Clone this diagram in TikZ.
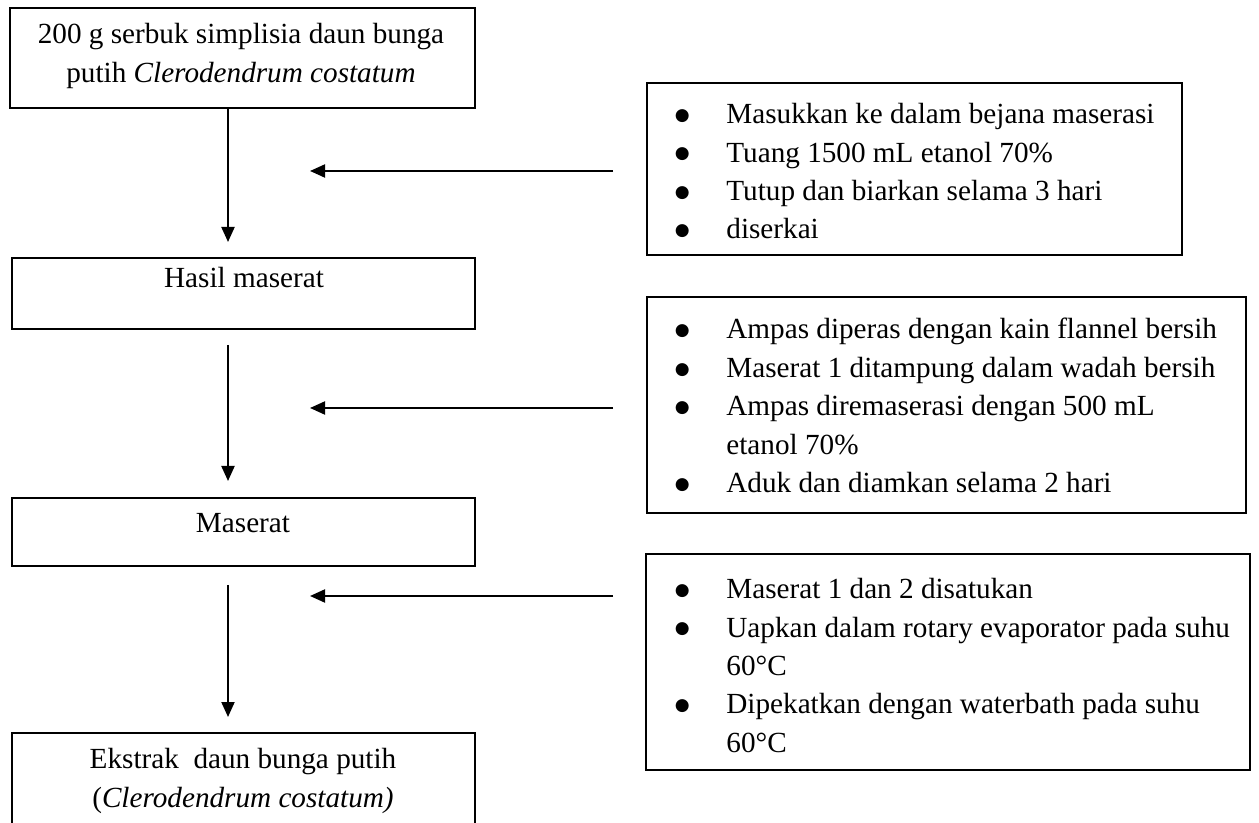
\documentclass[tikz,border=0pt]{standalone}
\usepackage{fontspec}
\setmainfont{Liberation Serif}
\newfontfamily\symf{DejaVu Sans}
\usetikzlibrary{arrows.meta}
\newcommand{\bigbul}{\raisebox{1.6pt}{\symf\fontsize{8.5}{8.5}\selectfont ●}}
\newcommand{\bl}[1]{\makebox[12pt][c]{\bigbul}\hspace{16pt}#1}
\newcommand{\cont}[1]{\hspace{28pt}#1}
\begin{document}
\begin{tikzpicture}[x=0.5pt,y=-0.5pt,
  txt/.style={font=\fontsize{14.6}{19.2}\selectfont,inner sep=0pt},
  box/.style={draw,line width=1pt},
  flow/.style={line width=1pt,-{Triangle[length=7.5pt,width=6.5pt]}}]
\useasboundingbox (0,0) rectangle (1259,823);
% left boxes
\draw[box] (10,8) rectangle (475,108);
\node[txt,align=center,anchor=north] (b1) at (241,23) {200 g serbuk simplisia daun bunga\\putih \textit{Clerodendrum costatum}};
\draw[box] (12,258) rectangle (475,329);
\node[txt,anchor=base] (b2) at (244,288) {Hasil maserat};
\draw[box] (12,498) rectangle (475,566);
\node[txt,anchor=base] (b3) at (243,533) {Maserat};
\draw[box] (12,733) rectangle (475,840);
\node[txt,align=center,anchor=north] (b4) at (243,748) {Ekstrak\ \ daun bunga putih\\(\textit{Clerodendrum costatum)}};
% right boxes
\draw[box] (647,83) rectangle (1182,255);
\node[txt,align=left,anchor=north west] (r1) at (670,103) {\bl{Masukkan ke dalam bejana maserasi}\\\bl{Tuang 1500 mL etanol 70\%}\\\bl{Tutup dan biarkan selama 3 hari}\\\bl{diserkai}};
\draw[box] (647,297) rectangle (1246,513);
\node[txt,align=left,anchor=north west] (r2) at (670,318) {\bl{Ampas diperas dengan kain flannel bersih}\\\bl{Maserat 1 ditampung dalam wadah bersih}\\\bl{Ampas diremaserasi dengan 500 mL}\\\cont{etanol 70\%}\\\bl{Aduk dan diamkan selama 2 hari}};
\draw[box] (646,554) rectangle (1250,770);
\node[txt,align=left,anchor=north west] (r3) at (670,578) {\bl{Maserat 1 dan 2 disatukan}\\\bl{Uapkan dalam rotary evaporator pada suhu}\\\cont{60°C}\\\bl{Dipekatkan dengan waterbath pada suhu}\\\cont{60°C}};
% vertical arrows
\coordinate (v1a) at (228,108); \coordinate (v1b) at (228,242);
\coordinate (v2a) at (228,345); \coordinate (v2b) at (228,481);
\coordinate (v3a) at (228,585); \coordinate (v3b) at (228,717);
\draw[flow] (v1a) -- (v1b);
\draw[flow] (v2a) -- (v2b);
\draw[flow] (v3a) -- (v3b);
% horizontal arrows
\coordinate (h1a) at (613,171); \coordinate (h1b) at (310,171);
\coordinate (h2a) at (613,408); \coordinate (h2b) at (310,408);
\coordinate (h3a) at (613,596); \coordinate (h3b) at (310,596);
\draw[flow] (h1a) -- (h1b);
\draw[flow] (h2a) -- (h2b);
\draw[flow] (h3a) -- (h3b);
\end{tikzpicture}
\end{document}
